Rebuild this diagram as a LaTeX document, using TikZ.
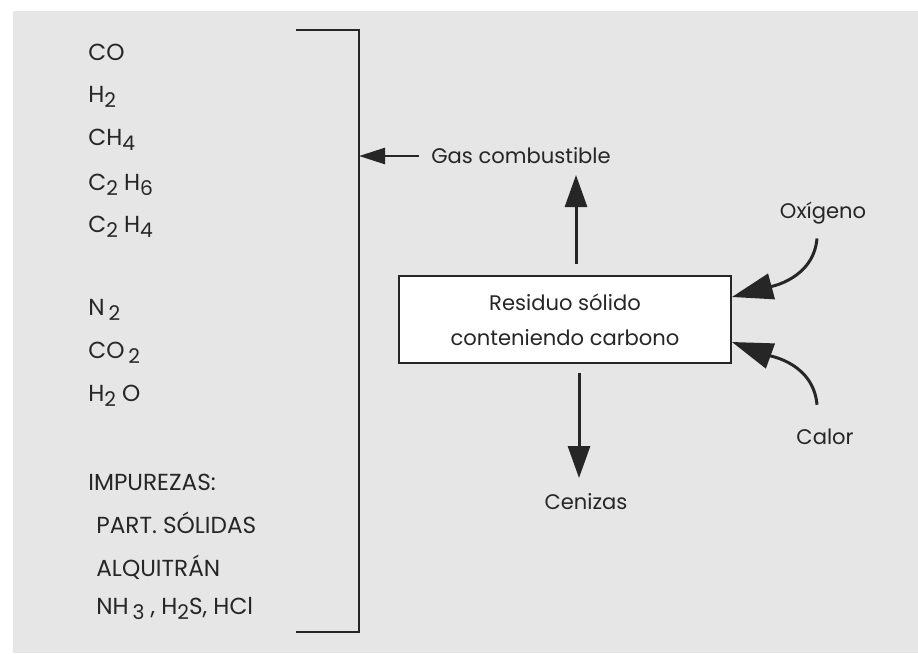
\documentclass[tikz,border=0pt]{standalone}
\usepackage{fontspec}
\setmainfont{Poppins}
\usetikzlibrary{arrows.meta}

\definecolor{panel}{HTML}{E6E6E6}
\definecolor{ink}{HTML}{262626}
\newcommand{\dn}[1]{\raisebox{-0.4ex}{\fontsize{11.5}{12}\selectfont #1}}

\begin{document}
\begin{tikzpicture}[x=0.02cm,y=-0.02cm,
                    font=\fontsize{12}{14}\selectfont,
                    item/.style={anchor=west,inner sep=0pt,text=ink,font=\fontsize{13.2}{14}\selectfont},
                    tag/.style={inner sep=0pt,text=ink},
                    flow/.style={draw=ink,line width=1.7pt,-{Triangle[length=0.64cm,width=0.44cm]}},
                    feed/.style={draw=ink,line width=1.7pt,-{Triangle[length=0.82cm,width=0.52cm]}}]
  \useasboundingbox (0,0) rectangle (918,653);
  \fill[panel] (13,11) rectangle (918,653);
  % gases in the product
  \node[item] (co)   at (88,52)  {CO};
  \node[item] (h2)   at (88,97)  {H\dn{2}};
  \node[item] (ch4)  at (88,140) {CH\dn{4}};
  \node[item] (c2h6) at (88,185) {C\dn{2} H\dn{6}};
  \node[item] (c2h4) at (88,227) {C\dn{2} H\dn{4}};
  \node[item] (n2)   at (88,310) {N\,\dn{2}};
  \node[item] (co2)  at (88,353) {CO\,\dn{2}};
  \node[item] (h2o)  at (88,396) {H\dn{2} O};
  \node[item] (imp)  at (88,482) {IMPUREZAS:};
  \node[item] (part) at (96,523) {PART. SÓLIDAS};
  \node[item] (alq)  at (96,567) {ALQUITRÁN};
  \node[item] (nh3)  at (96,608) {NH\,\dn{3} , H\dn{2}S, HCl};
  % bracket
  \coordinate (bt) at (296,30);
  \coordinate (bb) at (296,632);
  \coordinate (bj) at (359,156);
  \draw[ink,line width=1.2pt] (bt) -- (bt -| bj) -- (bb -| bj) -- (bb);
  % reactor
  \node[draw=ink,line width=1.1pt,fill=white,minimum width=6.64cm,minimum height=1.74cm,
        align=center,text=ink,font=\fontsize{12}{20}\selectfont] (box) at (565,319.5)
        {Residuo sólido\\conteniendo carbono};
  \node[tag] (gas)  at (521,156) {Gas combustible};
  \node[tag] (oxy)  at (823,213) {Oxígeno};
  \node[tag] (heat) at (825,437) {Calor};
  \node[tag] (ash)  at (586,502) {Cenizas};
  \coordinate (upTip)   at (576,175);
  \coordinate (downTip) at (579,478);
  \draw[draw=ink,line width=1.4pt,-{Triangle[length=0.52cm,width=0.32cm]},shorten <=0.24cm]
    (gas.west) -- (gas.west -| bj);
  \draw[flow] ([shift={(11,-11)}]box.north) -- (upTip);
  \draw[flow] ([shift={(14,9)}]box.south) -- (downTip);
  \draw[feed] ([shift={(-6,14)}]oxy.south) to[out=-95,in=15] ([yshift=0.45cm]box.east);
  \draw[feed] ([shift={(-8,-24)}]heat.north) to[out=95,in=-20] ([yshift=-0.45cm]box.east);
\end{tikzpicture}
\end{document}
